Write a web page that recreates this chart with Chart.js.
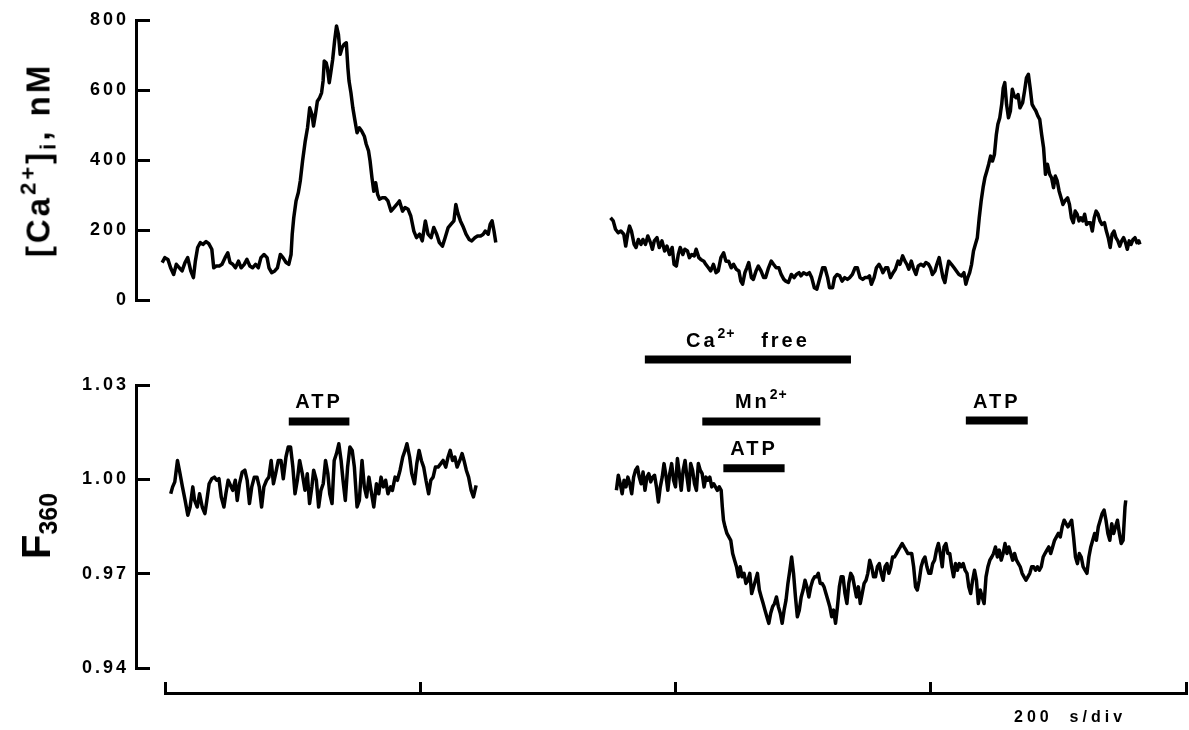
<!DOCTYPE html>
<html>
<head>
<meta charset="utf-8">
<title>[Ca2+]i and F360 traces</title>
<script src="https://cdn.jsdelivr.net/npm/chart.js@4.4.1/dist/chart.umd.min.js"></script>
<style>
    html, body { margin: 0; padding: 0; background: #fff; }
    #wrap {
        position: relative; width: 1189px; height: 730px; overflow: hidden;
        font-family: "Liberation Sans", Arial, sans-serif; color: #000;
    }
    canvas { position: absolute; left: 0; }
    .lbl {
        position: absolute; font-weight: bold; font-size: 20px; letter-spacing: 3px;
        white-space: nowrap; line-height: 1; transform: translate(-50%, -100%);
    }
    .lbl sup { font-size: 14px; line-height: 0; vertical-align: 9px; letter-spacing: 1px; }
    .ytitle {
        position: absolute; white-space: nowrap; line-height: 1; font-weight: bold;
        transform: translate(-50%, -50%) rotate(-90deg);
    }
    .ytitle sup, .ytitle sub { line-height: 0; }
</style>
</head>
<body>
<div id="wrap">
    <canvas id="caChart" width="1189" height="360" style="top:-20px"></canvas>
    <canvas id="fChart" width="1189" height="390" style="top:320px"></canvas>
    <canvas id="timeAxis" width="1189" height="50" style="top:660px"></canvas>

    <div class="ytitle" style="left:38px; top:160px; font-size:33px; letter-spacing:3px;">[Ca<sup style="font-size:22px; vertical-align:14px;">2+</sup>]<sub style="font-size:22px; vertical-align:-6px;">i</sub>, nM</div>
    <div class="ytitle" style="left:36px; top:526px; font-size:40px;">F<sub style="font-size:25px; vertical-align:-7px;">360</sub></div>
    <div style="position:absolute; left:1014px; top:709px; font-size:16px; font-weight:bold; letter-spacing:4px; line-height:1; white-space:nowrap;">200&nbsp;&nbsp;s/div</div>
</div>

<script>
// time in s, [Ca2+]i in nM (first recording, before the gap)
const caT1 = [-2.2, -0.1, 2.3, 4.4, 6.8, 8.9, 11.3, 13.4, 15.7, 17.8, 20.2, 22.3, 23.8, 25.6, 27.7, 29.8, 32.2, 34.3, 36.7, 38.2,
    40.2, 42.6, 44.7, 47.1, 49.2, 51.0, 53.1, 55.2, 57.6, 59.7, 62.1, 64.2, 66.5, 68.6, 71.0, 73.1, 75.2, 77.6, 80.0, 81.5,
    83.6, 86.0, 88.1, 90.4, 92.5, 94.9, 97.0, 98.8, 99.7, 100.9, 102.7, 104.5, 106.0, 107.8, 109.9, 111.7, 113.4, 115.2, 116.4, 117.9,
    119.4, 121.2, 122.7, 123.9, 124.8, 126.3, 127.2, 128.7, 129.9, 131.4, 132.9, 134.4, 135.9, 137.3, 138.8, 140.3, 142.1, 143.3, 144.2, 145.7,
    147.2, 148.7, 150.5, 152.3, 154.1, 156.2, 157.7, 159.5, 160.7, 162.2, 163.6, 165.1, 166.6, 168.1, 170.2, 172.6, 174.7, 177.1, 179.5, 181.6,
    183.7, 186.1, 188.1, 190.5, 192.6, 195.0, 197.1, 199.5, 201.6, 204.0, 206.1, 208.5, 210.6, 212.9, 215.0, 217.4, 219.5, 221.9, 224.0, 226.4,
    227.9, 229.4, 231.5, 233.9, 235.9, 238.3, 240.4, 242.8, 244.9, 247.3, 249.4, 250.9, 253.3, 254.8, 256.3, 257.8, 259.2];
const ca1 = [107, 121, 116, 92, 73, 102, 92, 83, 107, 121, 83, 64, 111, 150, 164, 159, 167, 161, 145, 92,
    97, 97, 102, 121, 135, 107, 102, 92, 111, 92, 102, 116, 97, 92, 102, 92, 121, 130, 121, 92,
    78, 83, 92, 130, 121, 107, 102, 130, 188, 235, 283, 307, 340, 397, 454, 492, 549, 530, 497, 530,
    568, 578, 592, 626, 683, 678, 664, 621, 649, 687, 740, 783, 759, 702, 721, 730, 735, 664, 626, 592,
    549, 516, 478, 492, 483, 468, 445, 426, 397, 349, 311, 335, 302, 288, 292, 292, 283, 254, 264, 273,
    283, 254, 264, 259, 240, 197, 178, 188, 169, 226, 188, 178, 207, 188, 164, 154, 178, 207, 216, 226,
    273, 249, 226, 207, 188, 173, 169, 178, 183, 183, 188, 197, 188, 216, 226, 197, 164];

// second recording (Ca2+ free / Mn2+ protocol)
const caT2 = [349.1, 351.2, 353.0, 355.1, 357.2, 359.5, 361.0, 362.5, 364.0, 365.5, 367.6, 369.1, 370.9, 373.0, 374.5, 376.5, 378.3, 380.4, 381.9, 383.4,
    385.5, 387.3, 389.4, 391.5, 393.3, 395.3, 397.4, 398.9, 400.7, 402.2, 403.7, 405.8, 407.3, 409.4, 410.9, 412.7, 414.7, 416.2, 418.3, 419.8,
    422.2, 423.7, 425.8, 427.6, 429.7, 431.8, 433.5, 435.6, 437.7, 439.5, 441.6, 443.7, 445.5, 447.6, 449.7, 451.2, 452.6, 454.4, 455.9, 457.4,
    459.5, 461.0, 463.1, 464.9, 467.0, 469.1, 470.6, 472.9, 475.0, 476.8, 478.9, 481.0, 482.8, 484.9, 486.4, 488.5, 490.8, 492.9, 494.7, 496.8,
    498.3, 500.4, 502.8, 504.9, 506.7, 508.8, 510.8, 513.2, 515.3, 517.1, 519.2, 520.7, 523.1, 524.6, 526.7, 528.7, 530.5, 532.6, 534.7, 536.5,
    538.6, 540.7, 542.5, 544.6, 546.7, 548.4, 550.5, 552.0, 553.5, 555.6, 557.4, 559.5, 561.0, 562.5, 564.6, 566.3, 568.4, 570.5, 572.3, 574.4,
    575.9, 578.0, 579.8, 581.3, 582.8, 584.8, 586.3, 588.4, 590.2, 592.3, 594.4, 596.2, 598.3, 599.8, 601.3, 603.3, 604.8, 606.6, 608.1, 609.6,
    611.1, 612.6, 614.1, 616.2, 618.3, 620.1, 622.1, 624.2, 626.0, 627.5, 629.0, 630.5, 632.0, 633.5, 635.0, 636.5, 638.0, 639.5, 641.0, 642.4,
    643.9, 645.4, 646.9, 648.4, 649.9, 651.4, 652.6, 654.1, 655.6, 656.8, 658.0, 659.4, 660.9, 662.4, 663.9, 665.4, 666.9, 668.4, 669.9, 672.0,
    673.5, 675.0, 676.5, 677.9, 679.4, 680.9, 682.4, 683.9, 685.4, 686.9, 688.4, 689.9, 691.4, 693.2, 694.7, 696.2, 697.6, 699.1, 700.6, 702.1,
    703.6, 705.1, 707.2, 708.7, 710.2, 711.7, 713.2, 714.7, 716.2, 717.6, 719.1, 720.6, 722.1, 723.6, 725.1, 726.6, 728.1, 729.6, 731.1, 732.6,
    734.1, 736.1, 737.6, 739.1, 740.6, 742.1, 743.6, 745.1, 746.6, 748.1, 749.6, 751.1, 752.6, 754.0, 755.5, 757.0, 758.5, 760.0, 761.5, 763.0,
    763.9];
const ca2 = [235, 226, 202, 192, 197, 188, 154, 188, 211, 197, 159, 150, 173, 159, 173, 159, 183, 164, 145, 169,
    178, 150, 169, 140, 154, 130, 150, 102, 97, 130, 150, 130, 145, 140, 121, 130, 126, 145, 121, 116,
    111, 102, 92, 83, 102, 78, 83, 121, 135, 111, 111, 92, 102, 88, 83, 54, 45, 78, 92, 107,
    64, 59, 83, 97, 83, 64, 64, 92, 111, 102, 92, 92, 73, 59, 54, 50, 73, 64, 73, 78,
    69, 78, 73, 78, 64, 35, 31, 64, 92, 92, 64, 35, 35, 64, 73, 69, 54, 64, 59, 64,
    73, 92, 92, 64, 59, 64, 64, 69, 45, 64, 92, 102, 92, 78, 92, 92, 64, 78, 88, 111,
    102, 126, 111, 102, 88, 111, 92, 73, 97, 102, 97, 107, 102, 92, 73, 83, 102, 121, 92, 64,
    50, 83, 111, 102, 92, 83, 73, 69, 78, 45, 64, 78, 102, 140, 159, 178, 235, 283, 321, 349,
    368, 388, 411, 397, 416, 473, 502, 521, 559, 606, 621, 559, 521, 540, 602, 583, 578, 587, 549, 564,
    597, 635, 645, 606, 559, 549, 540, 526, 516, 473, 435, 359, 388, 359, 349, 321, 354, 340, 311, 292,
    273, 283, 292, 273, 235, 221, 254, 245, 226, 235, 226, 245, 216, 221, 221, 197, 235, 254, 245, 226,
    216, 221, 197, 178, 150, 188, 197, 178, 169, 154, 169, 178, 164, 145, 169, 159, 173, 178, 164, 169,
    159];

// F360 (normalised fluorescence at 360 nm)
const fT1 = [4.5, 6.0, 7.7, 9.8, 11.3, 13.7, 15.8, 17.9, 19.7, 21.8, 23.2, 25.3, 27.1, 29.2, 31.3, 32.8, 34.6, 36.7, 38.7, 40.5,
    42.3, 44.1, 46.2, 47.7, 49.5, 51.3, 53.1, 55.1, 56.6, 58.4, 60.5, 62.6, 64.4, 66.2, 68.0, 70.0, 72.1, 73.9, 75.7, 77.5,
    79.6, 81.4, 83.2, 85.0, 86.7, 88.8, 90.9, 92.7, 94.8, 96.6, 98.4, 100.2, 101.9, 103.7, 105.5, 107.6, 109.7, 111.5, 113.3, 115.1,
    116.5, 118.6, 120.4, 122.2, 124.0, 125.8, 127.6, 129.1, 130.9, 132.6, 134.4, 136.2, 138.0, 139.5, 141.3, 143.1, 144.9, 146.7, 148.4, 150.5,
    152.3, 154.4, 156.2, 158.0, 159.8, 161.9, 163.6, 165.7, 167.5, 169.3, 171.1, 172.9, 174.7, 176.8, 178.2, 180.3, 182.1, 184.2, 186.3, 188.1,
    189.6, 191.7, 193.4, 195.5, 197.3, 199.1, 200.9, 202.7, 204.5, 206.6, 208.3, 210.1, 211.9, 214.0, 216.1, 217.9, 220.0, 221.8, 223.5, 225.3,
    227.1, 228.9, 231.0, 232.8, 234.3, 236.1, 237.9, 239.9, 241.7, 243.8];
const f1 = [0.9954, 0.9976, 0.9992, 1.0060, 1.0029, 0.9976, 0.9933, 0.9886, 0.9912, 0.9976,
    0.9933, 0.9912, 0.9954, 0.9912, 0.9891, 0.9933, 0.9986, 1.0002, 1.0007, 0.9997,
    1.0002, 0.9944, 0.9912, 0.9954, 0.9997, 0.9981, 0.9965, 0.9997, 0.9933, 0.9986,
    1.0023, 1.0029, 0.9997, 0.9923, 0.9976, 1.0007, 1.0007, 0.9976, 0.9912, 0.9976,
    0.9997, 1.0007, 1.0060, 0.9986, 1.0018, 1.0060, 1.0060, 1.0002, 1.0071, 1.0103,
    1.0103, 1.0039, 0.9954, 0.9997, 1.0060, 1.0018, 0.9965, 1.0018, 0.9923, 0.9976,
    1.0029, 0.9997, 0.9912, 0.9965, 0.9986, 1.0060, 1.0018, 0.9954, 0.9923, 1.0060,
    1.0082, 1.0113, 1.0060, 0.9997, 0.9933, 1.0039, 1.0103, 1.0092, 1.0039, 0.9912,
    0.9933, 1.0060, 0.9976, 0.9944, 1.0007, 0.9954, 0.9912, 0.9986, 0.9954, 1.0007,
    0.9976, 0.9997, 0.9954, 0.9976, 0.9965, 1.0007, 0.9997, 1.0029, 1.0071, 1.0092,
    1.0113, 1.0071, 1.0018, 0.9986, 1.0050, 1.0092, 1.0060, 1.0039, 0.9997, 0.9954,
    0.9997, 1.0007, 1.0039, 1.0039, 1.0050, 1.0060, 1.0039, 1.0071, 1.0092, 1.0060,
    1.0071, 1.0039, 1.0060, 1.0082, 1.0060, 1.0029, 1.0007, 0.9965, 0.9944, 0.9981];

const fT2 = [353.7, 355.2, 356.7, 358.2, 359.7, 361.2, 362.7, 364.2, 365.7, 367.2,
    368.7, 370.2, 371.6, 373.1, 374.6, 376.1, 377.6, 379.1, 380.6, 382.1,
    383.6, 385.1, 386.6, 388.1, 389.6, 391.0, 392.5, 394.0, 395.5, 397.0,
    398.5, 400.0, 401.5, 403.0, 404.5, 406.0, 407.5, 409.0, 410.4, 411.9,
    413.4, 414.9, 416.4, 417.9, 419.4, 420.9, 422.4, 423.9, 425.4, 426.9,
    428.4, 429.9, 431.3, 432.8, 434.3, 435.8, 436.7, 437.6,
    438.8, 440.3, 441.8, 443.3, 444.8, 446.3, 447.8, 449.3, 450.7, 452.2,
    453.7, 455.2, 456.7, 458.2, 459.7, 461.2, 462.7, 464.2, 465.7, 467.2,
    468.7, 470.1, 471.6, 473.1, 474.6, 476.1, 477.6, 479.1, 480.6, 482.1,
    483.6, 485.1, 486.6, 488.1, 489.6, 491.0, 492.5, 494.0, 495.5, 497.0,
    498.5, 500.0, 501.5, 503.0, 504.5, 506.0, 507.5, 509.0, 510.4, 511.9,
    513.4, 514.9, 516.4, 517.9, 519.4, 520.9, 522.4, 523.9, 525.4, 526.9,
    528.4, 529.8, 531.3, 532.8, 534.3, 535.8, 537.3, 538.8, 540.3, 541.8,
    543.3, 544.8, 546.3, 547.8, 549.3, 550.7, 552.2, 553.7, 555.2, 556.7,
    558.2, 559.7, 561.2, 562.7, 564.2, 565.7, 567.2, 568.7, 570.1, 571.6,
    573.1, 574.6, 576.1, 577.6, 579.1, 580.6, 582.1, 583.6, 585.1, 586.6,
    588.1, 589.5, 591.0, 592.5, 594.0, 595.5, 597.0, 598.5, 600.0, 601.5,
    603.0, 604.5, 606.0, 607.5, 609.0, 610.4, 611.9, 613.4, 614.9, 616.4,
    617.9, 619.4, 620.9, 622.4, 623.9, 625.4, 626.9, 628.4, 629.8, 631.3,
    632.8, 634.3, 635.8, 637.3, 638.8, 640.3, 641.8, 643.3, 644.8, 646.3,
    647.8, 649.2, 650.7, 652.2, 653.7, 655.2, 656.7, 658.2, 659.7, 661.2,
    662.7, 664.2, 665.7, 667.2, 668.7, 670.1, 671.6, 673.1, 674.6, 676.1,
    677.6, 679.1, 680.6, 682.1, 683.6, 685.1, 686.6, 688.1, 689.5, 691.0,
    692.5, 694.0, 695.5, 697.0, 698.5, 700.0, 701.5, 703.0, 704.5, 706.0,
    707.5, 708.9, 710.4, 711.9, 713.4, 714.9, 716.4, 717.9, 719.4, 720.9,
    722.4, 723.9, 725.4, 726.9, 728.4, 729.8, 731.3, 732.8, 734.3, 735.8,
    737.3, 738.8, 740.3, 741.8, 743.3, 744.8, 746.3, 747.8, 749.2, 750.7,
    752.2, 752.8];
const f2 = [0.9965, 1.0013, 0.9986, 0.9954, 0.9997, 0.9976, 1.0007, 0.9986, 0.9954, 1.0007,
    1.0029, 1.0039, 1.0007, 0.9986, 1.0023, 0.9965, 1.0007, 1.0018, 0.9992, 1.0007,
    1.0013, 0.9976, 0.9928, 0.9976, 1.0007, 1.0050, 1.0013, 0.9965, 1.0018, 1.0050,
    0.9997, 0.9976, 1.0066, 1.0018, 0.9965, 1.0029, 1.0060, 1.0007, 0.9965, 1.0050,
    1.0029, 0.9986, 0.9965, 1.0050, 1.0029, 1.0018, 0.9976, 1.0007, 0.9997, 1.0007,
    0.9976, 0.9986, 0.9976, 0.9965, 0.9976, 0.9965, 0.9912, 0.9870,
    0.9849, 0.9828, 0.9817, 0.9806, 0.9764, 0.9743, 0.9722, 0.9690, 0.9722, 0.9690,
    0.9701, 0.9669, 0.9679, 0.9701, 0.9637, 0.9658, 0.9679, 0.9701, 0.9648, 0.9626,
    0.9605, 0.9584, 0.9563, 0.9542, 0.9574, 0.9595, 0.9605, 0.9626, 0.9595, 0.9574,
    0.9542, 0.9584, 0.9616, 0.9669, 0.9711, 0.9753, 0.9701, 0.9626, 0.9563, 0.9584,
    0.9626, 0.9648, 0.9679, 0.9658, 0.9626, 0.9658, 0.9679, 0.9690, 0.9690, 0.9701,
    0.9669, 0.9669, 0.9658, 0.9637, 0.9616, 0.9595, 0.9563, 0.9584, 0.9542, 0.9595,
    0.9658, 0.9690, 0.9690, 0.9637, 0.9605, 0.9669, 0.9701, 0.9690, 0.9658, 0.9626,
    0.9658, 0.9605, 0.9637, 0.9669, 0.9679, 0.9701, 0.9743, 0.9722, 0.9690, 0.9690,
    0.9722, 0.9732, 0.9701, 0.9679, 0.9722, 0.9732, 0.9701, 0.9722, 0.9753, 0.9753,
    0.9764, 0.9775, 0.9785, 0.9796, 0.9785, 0.9775, 0.9764, 0.9764, 0.9764, 0.9722,
    0.9658, 0.9648, 0.9679, 0.9722, 0.9743, 0.9753, 0.9722, 0.9701, 0.9701, 0.9732,
    0.9743, 0.9775, 0.9796, 0.9764, 0.9722, 0.9785, 0.9796, 0.9764, 0.9764, 0.9722,
    0.9690, 0.9732, 0.9711, 0.9732, 0.9722, 0.9732, 0.9711, 0.9701, 0.9658, 0.9637,
    0.9679, 0.9711, 0.9679, 0.9605, 0.9648, 0.9626, 0.9605, 0.9690, 0.9722, 0.9743,
    0.9753, 0.9764, 0.9785, 0.9753, 0.9775, 0.9743, 0.9764, 0.9796, 0.9764, 0.9785,
    0.9764, 0.9743, 0.9764, 0.9743, 0.9732, 0.9722, 0.9701, 0.9690, 0.9679, 0.9690,
    0.9701, 0.9722, 0.9722, 0.9711, 0.9722, 0.9711, 0.9722, 0.9753, 0.9764, 0.9775,
    0.9785, 0.9764, 0.9785, 0.9806, 0.9817, 0.9828, 0.9817, 0.9849, 0.9870, 0.9859,
    0.9849, 0.9859, 0.9870, 0.9817, 0.9753, 0.9732, 0.9764, 0.9753, 0.9722, 0.9711,
    0.9701, 0.9753, 0.9785, 0.9806, 0.9828, 0.9806, 0.9849, 0.9870, 0.9891, 0.9902,
    0.9870, 0.9828, 0.9806, 0.9859, 0.9828, 0.9849, 0.9870, 0.9828, 0.9796, 0.9806,
    0.9912, 0.9933];

// application bars (s) and their height on the F360 scale
const barNames = ['ATP', 'Ca<sup>2+</sup>&nbsp;&nbsp;&nbsp;free', 'Mn<sup>2+</sup>', 'ATP', 'ATP'];
const barStart = [97, 376, 421, 437.5, 627.5];
const barEnd = [144.5, 537.5, 513.5, 485.5, 676];
const barLevel = [1.0184, 1.0381, 1.0184, 1.0035, 1.0187];

// tick labels
const caTicks = [0, 200, 400, 600, 800];
const fTicks = [0.94, 0.97, 1.00, 1.03];
const timeTicks = [0, 200, 400, 600, 800];

const xMin = -22.7, xMax = 800;

Chart.defaults.font.family = "'Liberation Sans', Arial, sans-serif";
Chart.defaults.color = '#000';

// wider letter spacing for the tick numbers
const spacedText = {
    id: 'spacedText',
    beforeDraw(chart) { chart.ctx.letterSpacing = '3px'; }
};

function toPoints(xs, ys) {
    return xs.map((x, i) => ({ x: x, y: ys[i] }));
}

function trace(xs, ys) {
    return {
        data: toPoints(xs, ys),
        borderColor: '#000',
        borderWidth: 3.5,
        borderJoinStyle: 'round',
        pointRadius: 0,
        tension: 0,
        fill: false
    };
}

function valueAxis(min, max, ticks, fmt) {
    return {
        type: 'linear',
        min: min,
        max: max,
        afterFit: s => { s.width = 136; },
        afterBuildTicks: s => { s.ticks = ticks.map(v => ({ value: v })); },
        border: { display: true, color: '#000', width: 3 },
        // negative tick length: marks point into the plot, like the original
        grid: { drawOnChartArea: false, drawTicks: true, tickLength: -14, tickWidth: 3, tickColor: '#000' },
        ticks: { padding: 21, font: { size: 18, weight: 'bold' }, callback: fmt }
    };
}

function baseOptions(padding, yScale) {
    return {
        responsive: false,
        animation: false,
        devicePixelRatio: 1,
        events: [],
        layout: { padding: padding },
        plugins: { legend: { display: false }, tooltip: { enabled: false } },
        scales: {
            x: { type: 'linear', min: xMin, max: xMax, display: false },
            y: yScale
        }
    };
}

// top panel: [Ca2+]i  (canvas starts at -20px, so plot spans 20..300)
new Chart(document.getElementById('caChart'), {
    type: 'line',
    data: { datasets: [trace(caT1, ca1), trace(caT2, ca2)] },
    options: baseOptions({ top: 40, bottom: 40, left: 0, right: 3 },
        valueAxis(0, 800, caTicks, v => String(v))),
    plugins: [spacedText]
});

// bottom panel: F360 plus the application bars
const barSets = barNames.map((name, i) => ({
    data: [{ x: barStart[i], y: barLevel[i] }, { x: barEnd[i], y: barLevel[i] }],
    borderColor: '#000',
    borderWidth: 8,
    borderCapStyle: 'butt',
    pointRadius: 0,
    clip: false
}));

const fChart = new Chart(document.getElementById('fChart'), {
    type: 'line',
    data: { datasets: [trace(fT1, f1), trace(fT2, f2)].concat(barSets) },
    options: baseOptions({ top: 65, bottom: 42, left: 0, right: 3 },
        valueAxis(0.94, 1.03, fTicks, v => v.toFixed(2))),
    plugins: [spacedText]
});

// shared time axis, 200 s/div, tick marks pointing up
new Chart(document.getElementById('timeAxis'), {
    type: 'line',
    data: { datasets: [] },
    options: {
        responsive: false,
        animation: false,
        devicePixelRatio: 1,
        events: [],
        layout: { padding: { top: 0, bottom: 7, left: 165, right: 3 } },
        plugins: { legend: { display: false }, tooltip: { enabled: false } },
        scales: {
            x: {
                type: 'linear', min: 0, max: 800,
                afterFit: s => { s.height = 10; },
                afterBuildTicks: s => { s.ticks = timeTicks.map(v => ({ value: v })); },
                border: { display: true, color: '#000', width: 3 },
                grid: { drawOnChartArea: false, drawTicks: true, tickLength: -11, tickWidth: 3, tickColor: '#000' },
                ticks: { display: false }
            },
            y: { display: false }
        }
    }
});

// bar labels, placed from the bar data through the chart scales
const wrap = document.getElementById('wrap');
barNames.forEach((name, i) => {
    const cx = fChart.scales.x.getPixelForValue((barStart[i] + barEnd[i]) / 2);
    const cy = fChart.scales.y.getPixelForValue(barLevel[i]) + 320;
    const d = document.createElement('div');
    d.className = 'lbl';
    d.innerHTML = name;
    d.style.left = cx + 'px';
    d.style.top = (cy - 10) + 'px';
    wrap.appendChild(d);
});
</script>
</body>
</html>
